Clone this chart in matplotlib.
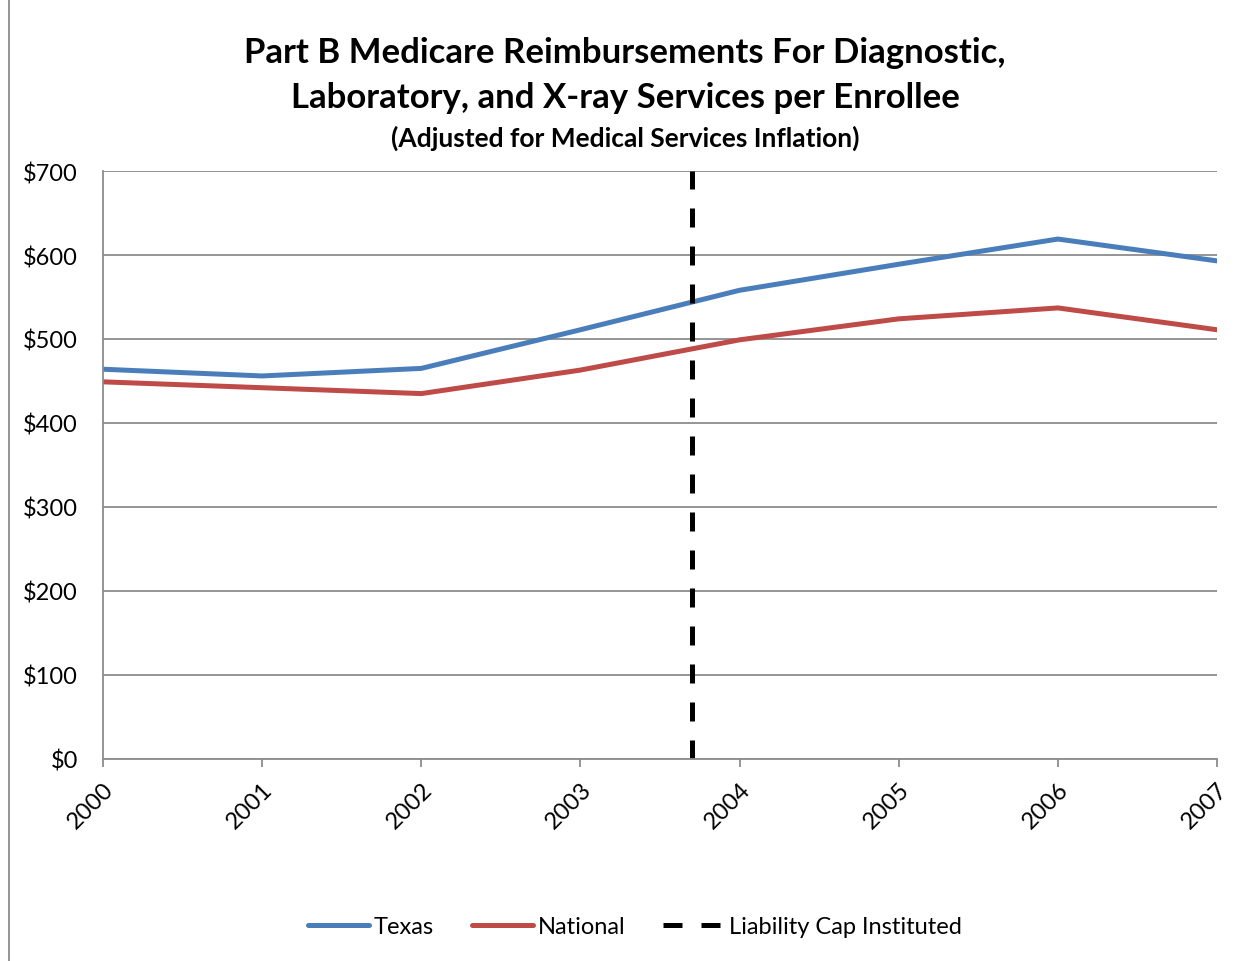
import matplotlib.pyplot as plt
from matplotlib.patches import Rectangle

plt.rcParams['font.family'] = ['Lato', 'DejaVu Sans']

years = [2000, 2001, 2002, 2003, 2004, 2005, 2006, 2007]
texas = [464, 456, 465, 511, 558, 589, 619, 593]
national = [449, 442, 435, 463, 499, 524, 537, 511]
cap_year = 2003.7

fig = plt.figure(figsize=(12.5, 9.62), dpi=100)
ax = fig.add_axes([0.0824, 0.2100, 0.8912, 0.6112])

ax.plot(years, texas, color='#4a7ebb', lw=3.6, label='Texas', solid_capstyle='round')
ax.plot(years, national, color='#be4b48', lw=3.6, label='National', solid_capstyle='round')
ax.axvline(cap_year, color='black', lw=3.6, dashes=(3.8, 3.8), label='Liability Cap Instituted')

ax.set_xlim(2000, 2007)
ax.set_ylim(0, 700)
ax.set_yticks(range(0, 701, 100))
ax.set_yticklabels(['$' + str(v) for v in range(0, 701, 100)], fontsize=17)
ax.set_xticks(years)
ax.set_xticklabels([str(y) for y in years], rotation=45, ha='right', va='top',
                   rotation_mode='anchor', fontsize=17)
ax.grid(axis='y', color='#8c8c8c', lw=1.3)
ax.set_axisbelow(True)
for s in ['top', 'right']:
    ax.spines[s].set_visible(False)
ax.spines['left'].set_color('#8c8c8c')
ax.spines['bottom'].set_color('#8c8c8c')
ax.spines['left'].set_linewidth(1.3)
ax.spines['bottom'].set_linewidth(1.3)
ax.tick_params(axis='y', length=0, pad=18)
ax.tick_params(axis='x', length=6, color='#8c8c8c', width=1.3, pad=8)

fig.text(0.5, 0.922, 'Part B Medicare Reimbursements For Diagnostic,\nLaboratory, and X-ray Services per Enrollee',
         ha='center', va='center', fontsize=25, fontweight='bold', linespacing=1.5)
fig.text(0.5, 0.856, '(Adjusted for Medical Services Inflation)',
         ha='center', va='center', fontsize=19, fontweight='bold')

fig.legend(loc='center', bbox_to_anchor=(0.508, 0.036), ncol=3, frameon=False,
           fontsize=17, handlelength=2.6, columnspacing=1.6, handletextpad=0.2)

fig.patches.append(Rectangle((0.007, -0.01), 1.2, 1.2, transform=fig.transFigure,
                             fill=False, edgecolor='#8c8c8c', lw=1.3))

fig.savefig('out.png', dpi=100)
